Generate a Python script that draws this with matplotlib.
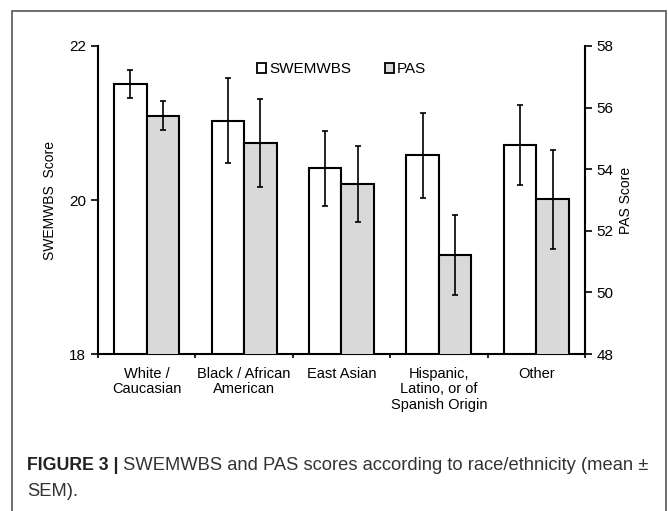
import numpy as np
import matplotlib
matplotlib.use('Agg')
import matplotlib.pyplot as plt
from matplotlib.patches import Patch, Rectangle

plt.rcParams['font.family'] = ['Liberation Sans', 'DejaVu Sans']

categories = ['White /\nCaucasian', 'Black / African\nAmerican', 'East Asian',
              'Hispanic,\nLatino, or of\nSpanish Origin', 'Other']
swemwbs = [21.51, 21.03, 20.41, 20.58, 20.71]
swemwbs_sem = [0.18, 0.55, 0.49, 0.55, 0.52]
pas = [55.74, 54.85, 53.53, 51.21, 53.02]
pas_sem = [0.47, 1.42, 1.23, 1.31, 1.60]

fig = plt.figure(figsize=(6.68, 5.11), dpi=100)
ax1 = fig.add_axes([0.1467, 0.3072, 0.729, 0.6028])
ax2 = ax1.twinx()

x = np.arange(len(categories))
w = 1/3.

ax1.bar(x - w/2, swemwbs, w, color='white', edgecolor='black', linewidth=1.5, zorder=2)
ax1.errorbar(x - w/2, swemwbs, yerr=swemwbs_sem, fmt='none', ecolor='black',
             elinewidth=1.2, capsize=2, capthick=1.2, zorder=3)
ax2.bar(x + w/2, pas, w, color='#d9d9d9', edgecolor='black', linewidth=1.5, zorder=2)
ax2.errorbar(x + w/2, pas, yerr=pas_sem, fmt='none', ecolor='black',
             elinewidth=1.2, capsize=2, capthick=1.2, zorder=3)

ax1.set_xlim(-0.5, len(categories) - 0.5)
ax1.set_ylim(18, 22)
ax1.set_yticks([18, 20, 22])
ax2.set_ylim(48, 58)
ax2.set_yticks([48, 50, 52, 54, 56, 58])

ax1.set_xticks(x)
ax1.set_xticklabels(categories, fontsize=10.5, linespacing=1.15)
ax1.set_xticks(np.arange(-0.5, len(categories)), minor=True)
ax1.tick_params(axis='x', which='major', length=0, pad=9)
ax1.tick_params(axis='x', which='minor', length=3, width=1.2, direction='out')
ax1.tick_params(axis='y', length=5, width=1.2, direction='out', labelsize=11)
ax2.tick_params(axis='y', length=5, width=1.2, direction='out', labelsize=11)

for a in (ax1, ax2):
    a.spines['top'].set_visible(False)
    for s in ('left', 'right', 'bottom'):
        a.spines[s].set_linewidth(1.5)
ax1.spines['right'].set_visible(False)
ax2.spines['left'].set_visible(False)
ax2.spines['bottom'].set_visible(False)

ax1.set_ylabel('SWEMWBS  Score', fontsize=10, labelpad=9)
ax2.set_ylabel('PAS Score', fontsize=10, labelpad=4)

handles = [Patch(facecolor='white', edgecolor='black', linewidth=1.3, label='SWEMWBS'),
           Patch(facecolor='#d9d9d9', edgecolor='black', linewidth=1.3, label='PAS')]
ax2.legend(handles=handles, loc='center', bbox_to_anchor=(0.5, 0.925), ncol=2,
           frameon=False, fontsize=11, handlelength=0.6, handleheight=0.6,
           handletextpad=0.2, columnspacing=2.2)

# frame around figure and caption
fig.patches.append(Rectangle((12/668., -0.05), 654/668., 1 - 11/511. + 0.05,
                             transform=fig.transFigure, fill=False,
                             edgecolor='#555555', linewidth=1.2))

t = fig.text(27/668., 1 - 466/511., 'FIGURE 3 |', fontsize=12.8, fontweight='bold',
             color='#222222', va='center', ha='left')
ax1.annotate(' SWEMWBS and PAS scores according to race/ethnicity (mean \u00b1',
             xy=(1, 0.5), xycoords=t, va='center', ha='left', fontsize=13.2,
             color='#333333', annotation_clip=False)
fig.text(27/668., 1 - 491/511., 'SEM).', fontsize=13.2, color='#333333',
         va='center', ha='left')

fig.savefig('out.png', dpi=100)
